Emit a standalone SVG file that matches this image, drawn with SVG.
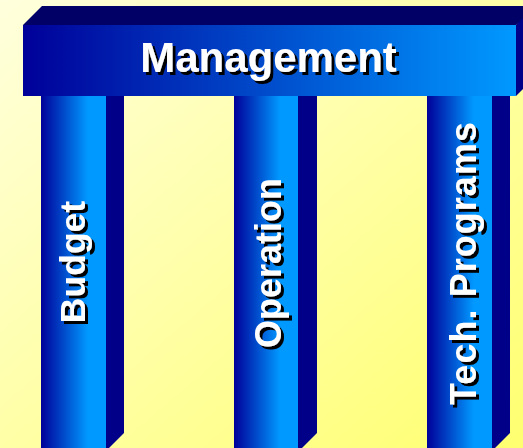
<svg xmlns="http://www.w3.org/2000/svg" width="523" height="448" viewBox="0 0 523 448">
<defs>
<linearGradient id="bg" x1="0" y1="0" x2="1" y2="1">
<stop offset="0" stop-color="#FFFFDD"/>
<stop offset="1" stop-color="#FFFF70"/>
</linearGradient>
<linearGradient id="barg" x1="0" y1="0" x2="1" y2="0">
<stop offset="0" stop-color="#000099"/>
<stop offset="1" stop-color="#0099FF"/>
</linearGradient>
<linearGradient id="colg" x1="0" y1="0" x2="1" y2="0">
<stop offset="0" stop-color="#000099"/>
<stop offset="0.72" stop-color="#0099FF"/>
<stop offset="1" stop-color="#0099FF"/>
</linearGradient>
<filter id="sh" x="-20%" y="-20%" width="140%" height="140%">
<feOffset in="SourceAlpha" dx="3" dy="3" result="o"/>
<feMerge><feMergeNode in="o"/><feMergeNode in="SourceGraphic"/></feMerge>
</filter>
<style>
.side{fill:#000088}
.top{fill:#000066}
.t{font-family:"Liberation Sans",Arial,sans-serif;font-weight:bold;text-anchor:middle;fill:#FFFFFF}
</style>
</defs>
<rect width="523" height="448" fill="url(#bg)"/>
<g id="budget">
<rect x="41" y="96" width="65" height="352" fill="url(#colg)"/>
<polygon class="side" points="106,96 124,96 124,433 109,448 106,448"/>
<g filter="url(#sh)"><text class="t" font-size="35.5" transform="translate(85,262) rotate(-90)">Budget</text></g>
</g>
<g id="operation">
<rect x="234" y="96" width="64" height="352" fill="url(#colg)"/>
<polygon class="side" points="298,96 317,96 317,433 302,448 298,448"/>
<g filter="url(#sh)"><text class="t" font-size="36" transform="translate(281,263) rotate(-90)">Operation</text></g>
</g>
<g id="tech">
<rect x="427" y="96" width="65" height="352" fill="url(#colg)"/>
<polygon class="side" points="492,96 510,96 510,433 495,448 492,448"/>
<g filter="url(#sh)"><text class="t" font-size="36" textLength="283" transform="translate(476,263.5) rotate(-90)">Tech. Programs</text></g>
</g>
<g id="management">
<polygon class="top" points="23,25 42,6 542,6 516,25"/>
<polygon class="side" points="516,25 535,6 535,77 516,96"/>
<rect x="23" y="25" width="493" height="71" fill="url(#barg)"/>
<g filter="url(#sh)"><text class="t" font-size="42" x="268.5" y="72">Management</text></g>
</g>
<g id="connectors"/>
</svg>
